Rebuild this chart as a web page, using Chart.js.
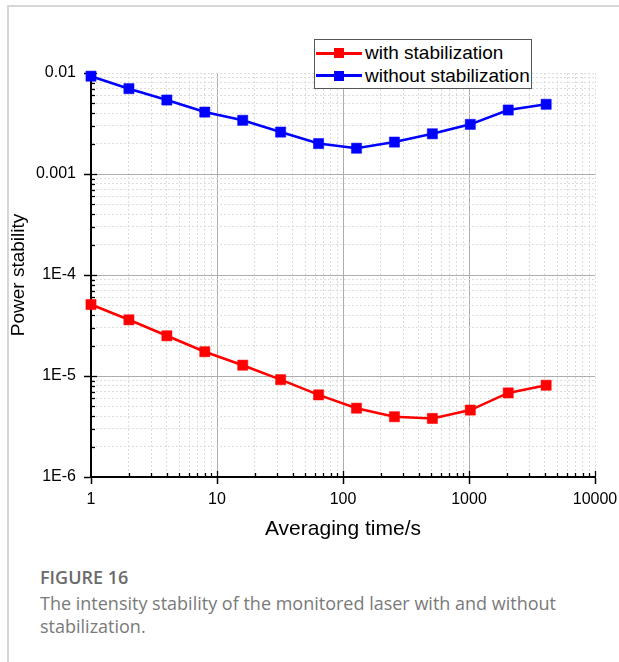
<!DOCTYPE html>
<html><head><meta charset="utf-8">
<script src="https://cdn.jsdelivr.net/npm/chart.js@4/dist/chart.umd.min.js"></script>
<style>
html,body{margin:0;padding:0;background:#fff;overflow:hidden;}
body{width:619px;height:662px;position:relative;font-family:"Liberation Sans",Arial,sans-serif;}
#card{position:absolute;left:7px;top:5px;width:640px;height:700px;border-left:2px solid #d6d6d6;border-top:2px solid #d6d6d6;}
#wrap{position:absolute;left:0;top:0;width:619px;height:560px;}
#legend{position:absolute;left:314px;top:39px;width:216px;height:48px;border:1px solid #555;background:#fff;}
.row{position:absolute;left:0;width:216px;height:22px;}
.ln{position:absolute;left:1px;top:9.5px;width:46px;height:3px;}
.sq{position:absolute;left:19px;top:6px;width:10px;height:10px;}
.lbl{position:absolute;left:50px;top:0;font-size:19px;line-height:22px;white-space:nowrap;color:#000;}
#fig{position:absolute;left:40px;top:566px;font-family:"Open Sans",sans-serif;font-weight:600;font-size:18px;line-height:22px;color:#6b6b6b;}
#cap{position:absolute;left:40px;top:592px;width:535px;font-family:"Open Sans",sans-serif;font-size:18px;line-height:23px;color:#7a7a7a;}
</style>
</head><body>
<div id="card"></div>
<div id="wrap"><canvas id="c" width="619" height="560"></canvas></div>
<div id="legend"></div>
<div id="fig">FIGURE 16</div>
<div id="cap">The intensity stability of the monitored laser with and without stabilization.</div>
<script>
const averagingTime = [1, 2, 4, 8, 16, 32, 64, 128, 256, 512, 1024, 2048, 4096];
const withStabilization = [5.1e-5, 3.6e-5, 2.5e-5, 1.74e-5, 1.28e-5, 9.2e-6, 6.5e-6, 4.8e-6, 3.95e-6, 3.8e-6, 4.6e-6, 6.8e-6, 8.1e-6];
const withoutStabilization = [0.0093, 0.0070, 0.0054, 0.0041, 0.0034, 0.0026, 0.0020, 0.0018, 0.00207, 0.0025, 0.0031, 0.0043, 0.0049];
const seriesNames = ['with stabilization', 'without stabilization'];
const seriesColors = ['#ff0000', '#0000ff'];
const xTickValues = [1, 10, 100, 1000, 10000];
const xTickLabels = ['1', '10', '100', '1000', '10000'];
const yTickValues = [1e-6, 1e-5, 1e-4, 1e-3, 1e-2];
const yTickLabels = ['1E-6', '1E-5', '1E-4', '0.001', '0.01'];
const xTitle = 'Averaging time/s';
const yTitle = 'Power stability';

function logTicks(majors) {
  const out = [];
  majors.forEach((m, i) => {
    out.push(m);
    if (i < majors.length - 1) for (let k = 2; k <= 9; k++) out.push(+(k * m).toPrecision(6));
  });
  return out;
}
function majorIndex(v, majors) {
  return majors.findIndex(m => Math.abs(v - m) / m < 1e-6);
}
function isEnd(v, majors) {
  const i = majorIndex(v, majors);
  return i === 0 || i === majors.length - 1;
}

// legend
const leg = document.getElementById('legend');
seriesNames.forEach((name, i) => {
  const row = document.createElement('div');
  row.className = 'row';
  row.style.top = (2 + i * 22.6) + 'px';
  row.innerHTML = '<div class="ln" style="background:' + seriesColors[i] + '"></div>' +
    '<div class="sq" style="background:' + seriesColors[i] + '"></div>' +
    '<div class="lbl">' + name + '</div>';
  leg.appendChild(row);
});

const innerTicks = {
  id: 'innerTicks',
  beforeDatasetsDraw(chart) {
    const ctx = chart.ctx, xs = chart.scales.x, ys = chart.scales.y;
    const ca = chart.chartArea;
    ctx.save();
    ctx.strokeStyle = '#000';
    ctx.lineWidth = 1.3;
    logTicks(xTickValues).forEach(v => {
      if (majorIndex(v, xTickValues) === 0) return;
      const px = Math.round(xs.getPixelForValue(v)) + 0.5;
      const len = majorIndex(v, xTickValues) >= 0 ? 6 : 4;
      ctx.beginPath(); ctx.moveTo(px, ca.bottom); ctx.lineTo(px, ca.bottom - len); ctx.stroke();
    });
    logTicks(yTickValues).forEach(v => {
      if (majorIndex(v, yTickValues) === 0) return;
      const py = Math.round(ys.getPixelForValue(v)) + 0.5;
      const len = majorIndex(v, yTickValues) >= 0 ? 6 : 4;
      ctx.beginPath(); ctx.moveTo(ca.left, py); ctx.lineTo(ca.left + len, py); ctx.stroke();
    });
    ctx.restore();
  }
};

const font = {family: '"Liberation Sans", Arial, sans-serif'};

function axisGrid(majors) {
  return {
    color: c => {
      const v = c.tick ? c.tick.value : 0;
      if (isEnd(v, majors)) return '#dedede';
      return majorIndex(v, majors) >= 0 ? '#adadad' : '#dcdcdc';
    },
    lineWidth: 1,
    drawTicks: true,
    tickLength: 7,
    tickWidth: 1.5,
    tickColor: c => (c.tick && majorIndex(c.tick.value, majors) >= 0) ? '#000' : 'rgba(0,0,0,0)'
  };
}
function axisBorder(majors) {
  return {
    display: true, color: '#000', width: 2,
    dash: c => {
      if (!c.tick) return [];
      const v = c.tick.value;
      return (majorIndex(v, majors) >= 0 && !isEnd(v, majors)) ? [] : [2, 2];
    }
  };
}

new Chart(document.getElementById('c'), {
  type: 'scatter',
  data: {
    datasets: [withStabilization, withoutStabilization].map((vals, i) => ({
      label: seriesNames[i],
      data: averagingTime.map((t, j) => ({x: t, y: vals[j]})),
      showLine: true,
      borderColor: seriesColors[i],
      backgroundColor: seriesColors[i],
      borderWidth: 2.6,
      pointStyle: 'rect',
      pointRadius: 7.2,
      pointBorderWidth: 0.5,
      pointBorderColor: seriesColors[i],
      pointBackgroundColor: seriesColors[i],
      tension: 0,
      clip: false
    }))
  },
  options: {
    responsive: false,
    animation: false,
    events: [],
    layout: {padding: {left: 7, top: 73, right: 24, bottom: 18}},
    plugins: {legend: {display: false}, tooltip: {enabled: false}},
    scales: {
      x: {
        type: 'logarithmic', min: 1, max: 10000,
        afterBuildTicks: s => { s.ticks = logTicks(xTickValues).map(v => ({value: v})); },
        afterFit: s => { s.height = 65; s.paddingLeft = 0; s.paddingRight = 0; },
        ticks: {
          autoSkip: false, maxRotation: 0, padding: 6, color: '#000',
          font: Object.assign({size: 16}, font),
          callback: v => { const i = majorIndex(v, xTickValues); return i >= 0 ? xTickLabels[i] : ''; }
        },
        grid: axisGrid(xTickValues),
        border: axisBorder(xTickValues),
        title: {display: true, text: xTitle, color: '#000', padding: 0, font: Object.assign({size: 21}, font)}
      },
      y: {
        type: 'logarithmic', min: 1e-6, max: 0.01,
        afterBuildTicks: s => { s.ticks = logTicks(yTickValues).map(v => ({value: v})); },
        afterFit: s => { s.width = 84; s.paddingTop = 0; s.paddingBottom = 0; },
        ticks: {
          autoSkip: false, padding: 8, color: '#000',
          font: Object.assign({size: 16}, font),
          callback: v => { const i = majorIndex(v, yTickValues); return i >= 0 ? yTickLabels[i] : ''; }
        },
        grid: axisGrid(yTickValues),
        border: axisBorder(yTickValues),
        title: {display: true, text: yTitle, color: '#000', padding: 0, font: Object.assign({size: 19}, font)}
      }
    }
  },
  plugins: [innerTicks]
});
</script>
</body></html>
